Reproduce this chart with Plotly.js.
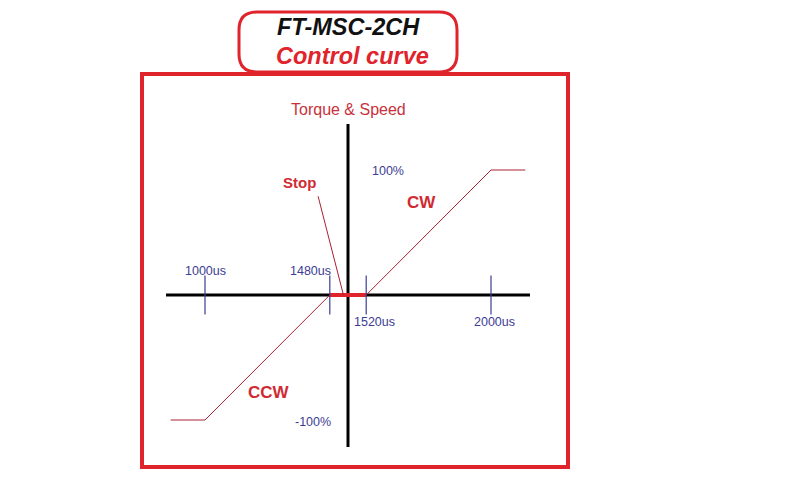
<!DOCTYPE html>
<html><head><meta charset="utf-8">
<script src="https://cdn.plot.ly/plotly-3.0.1.min.js"></script>
<style>html,body{margin:0;padding:0;background:#fff}#chart{width:790px;height:480px}</style>
</head><body><div id="chart"></div>
<script>
// ---- data ----
const pulseWidths = [868, 1000, 1480, 1520, 2000, 2132];   // us
const torquePct   = [-100, -100, 0, 0, 100, 100];           // %
const deadbandPulse = [1480, 1520];
const deadbandTorque = [0, 0];
const tickPulses = [1000, 1480, 1520, 2000];
const tickLabels = ['1000us', '1480us', '1520us', '2000us'];
const levelValues = [100, -100];
const levelLabels = ['100%', '-100%'];

// ---- schematic scale (dead band drawn enlarged) ----
const CENTER = 1500, HALF_DB = 20, DB_SCALE = 3.5;
function warp(p) {
  const o = p - CENTER, a = Math.abs(o), s = Math.sign(o);
  return s * (a <= HALF_DB ? a * DB_SCALE : HALF_DB * DB_SCALE + (a - HALF_DB));
}
const W = 790, H = 480;
const px = x => x / W, py = y => 1 - y / H;

const RED = '#e0242c', CURVE = '#a82232', BLUE = '#3c3c94', FONT = 'Liberation Sans, Arial, sans-serif';

const traces = [
  { x: pulseWidths.map(warp), y: torquePct, mode: 'lines', line: { color: CURVE, width: 1 }, hoverinfo: 'skip' },
  { x: deadbandPulse.map(warp), y: deadbandTorque, mode: 'lines', line: { color: RED, width: 4 }, hoverinfo: 'skip' },
  { x: tickPulses.map(warp), y: tickPulses.map(() => 0), mode: 'markers',
    marker: { symbol: 'line-ns', size: 28, color: BLUE, line: { color: BLUE, width: 1.2 } }, hoverinfo: 'skip' }
];

function roundRect(x0, y0, x1, y1, r) {
  const X = v => px(v), Y = v => py(v);
  return `M${X(x0 + r)},${Y(y0)} L${X(x1 - r)},${Y(y0)} Q${X(x1)},${Y(y0)} ${X(x1)},${Y(y0 + r)} ` +
         `L${X(x1)},${Y(y1 - r)} Q${X(x1)},${Y(y1)} ${X(x1 - r)},${Y(y1)} ` +
         `L${X(x0 + r)},${Y(y1)} Q${X(x0)},${Y(y1)} ${X(x0)},${Y(y1 - r)} ` +
         `L${X(x0)},${Y(y0 + r)} Q${X(x0)},${Y(y0)} ${X(x0 + r)},${Y(y0)} Z`;
}

const shapes = [
  // outer frame
  { type: 'rect', xref: 'paper', yref: 'paper', x0: px(142), x1: px(568), y0: py(467), y1: py(74),
    line: { color: RED, width: 4 }, layer: 'below' },
  // title box
  { type: 'path', xref: 'paper', yref: 'paper', path: roundRect(239, 12, 457, 72, 18),
    line: { color: RED, width: 3 }, fillcolor: '#ffffff' },
  // axes
  { type: 'line', xref: 'paper', yref: 'paper', x0: px(166), x1: px(530), y0: py(295), y1: py(295),
    line: { color: '#000', width: 3 }, layer: 'below' },
  { type: 'line', xref: 'paper', yref: 'paper', x0: px(348), x1: px(348), y0: py(124), y1: py(447),
    line: { color: '#000', width: 3 }, layer: 'below' },
  // stop pointer
  { type: 'line', xref: 'x', yref: 'y', x0: warp(1435), y0: 79, x1: warp(1495), y1: 0,
    line: { color: CURVE, width: 1 } }
];

const tickShift = [[0, 24], [-19, 24], [8, -27], [3, -27]];
const levelShift = [[40, -1], [-35, -2]];

const base = { showarrow: false, xanchor: 'center', yanchor: 'middle' };
const annotations = [
  Object.assign({ xref: 'paper', yref: 'paper', x: px(348), y: py(27), text: '<b><i>FT-MSC-2CH</i></b>',
    font: { family: FONT, size: 23.5, color: '#111' } }, base),
  Object.assign({ xref: 'paper', yref: 'paper', x: px(352), y: py(56), text: '<b><i>Control curve</i></b>',
    font: { family: FONT, size: 23.5, color: RED } }, base),
  Object.assign({ xref: 'paper', yref: 'paper', x: px(348), y: py(110), text: 'Torque &amp; Speed',
    font: { family: FONT, size: 16, color: '#c8323c' } }, base),
  Object.assign({ xref: 'x', yref: 'y', x: warp(1365), y: 90, text: '<b>Stop</b>',
    font: { family: FONT, size: 15, color: '#d02a32' } }, base),
  Object.assign({ xref: 'x', yref: 'y', x: warp(1731), y: 74, text: '<b>CW</b>',
    font: { family: FONT, size: 17, color: '#d02a32' } }, base),
  Object.assign({ xref: 'x', yref: 'y', x: warp(1246), y: -78, text: '<b>CCW</b>',
    font: { family: FONT, size: 17, color: '#d02a32' } }, base)
];
tickPulses.forEach((p, i) => annotations.push(Object.assign({
  xref: 'x', yref: 'y', x: warp(p), y: 0, text: tickLabels[i],
  xshift: tickShift[i][0], yshift: tickShift[i][1], font: { family: FONT, size: 12.5, color: BLUE } }, base)));
levelValues.forEach((v, i) => annotations.push(Object.assign({
  xref: 'x', yref: 'y', x: 0, y: v, text: levelLabels[i],
  xshift: levelShift[i][0], yshift: levelShift[i][1], font: { family: FONT, size: 12.5, color: BLUE } }, base)));

const layout = {
  width: W, height: H, margin: { l: 0, r: 0, t: 0, b: 0 },
  paper_bgcolor: '#fff', plot_bgcolor: '#fff', showlegend: false,
  xaxis: { range: [-348 / 0.26, (W - 348) / 0.26], visible: false, fixedrange: true },
  yaxis: { range: [(295 - H) / 1.25, 295 / 1.25], visible: false, fixedrange: true },
  shapes, annotations
};
Plotly.newPlot('chart', traces, layout, { staticPlot: true, displayModeBar: false });
</script></body></html>
